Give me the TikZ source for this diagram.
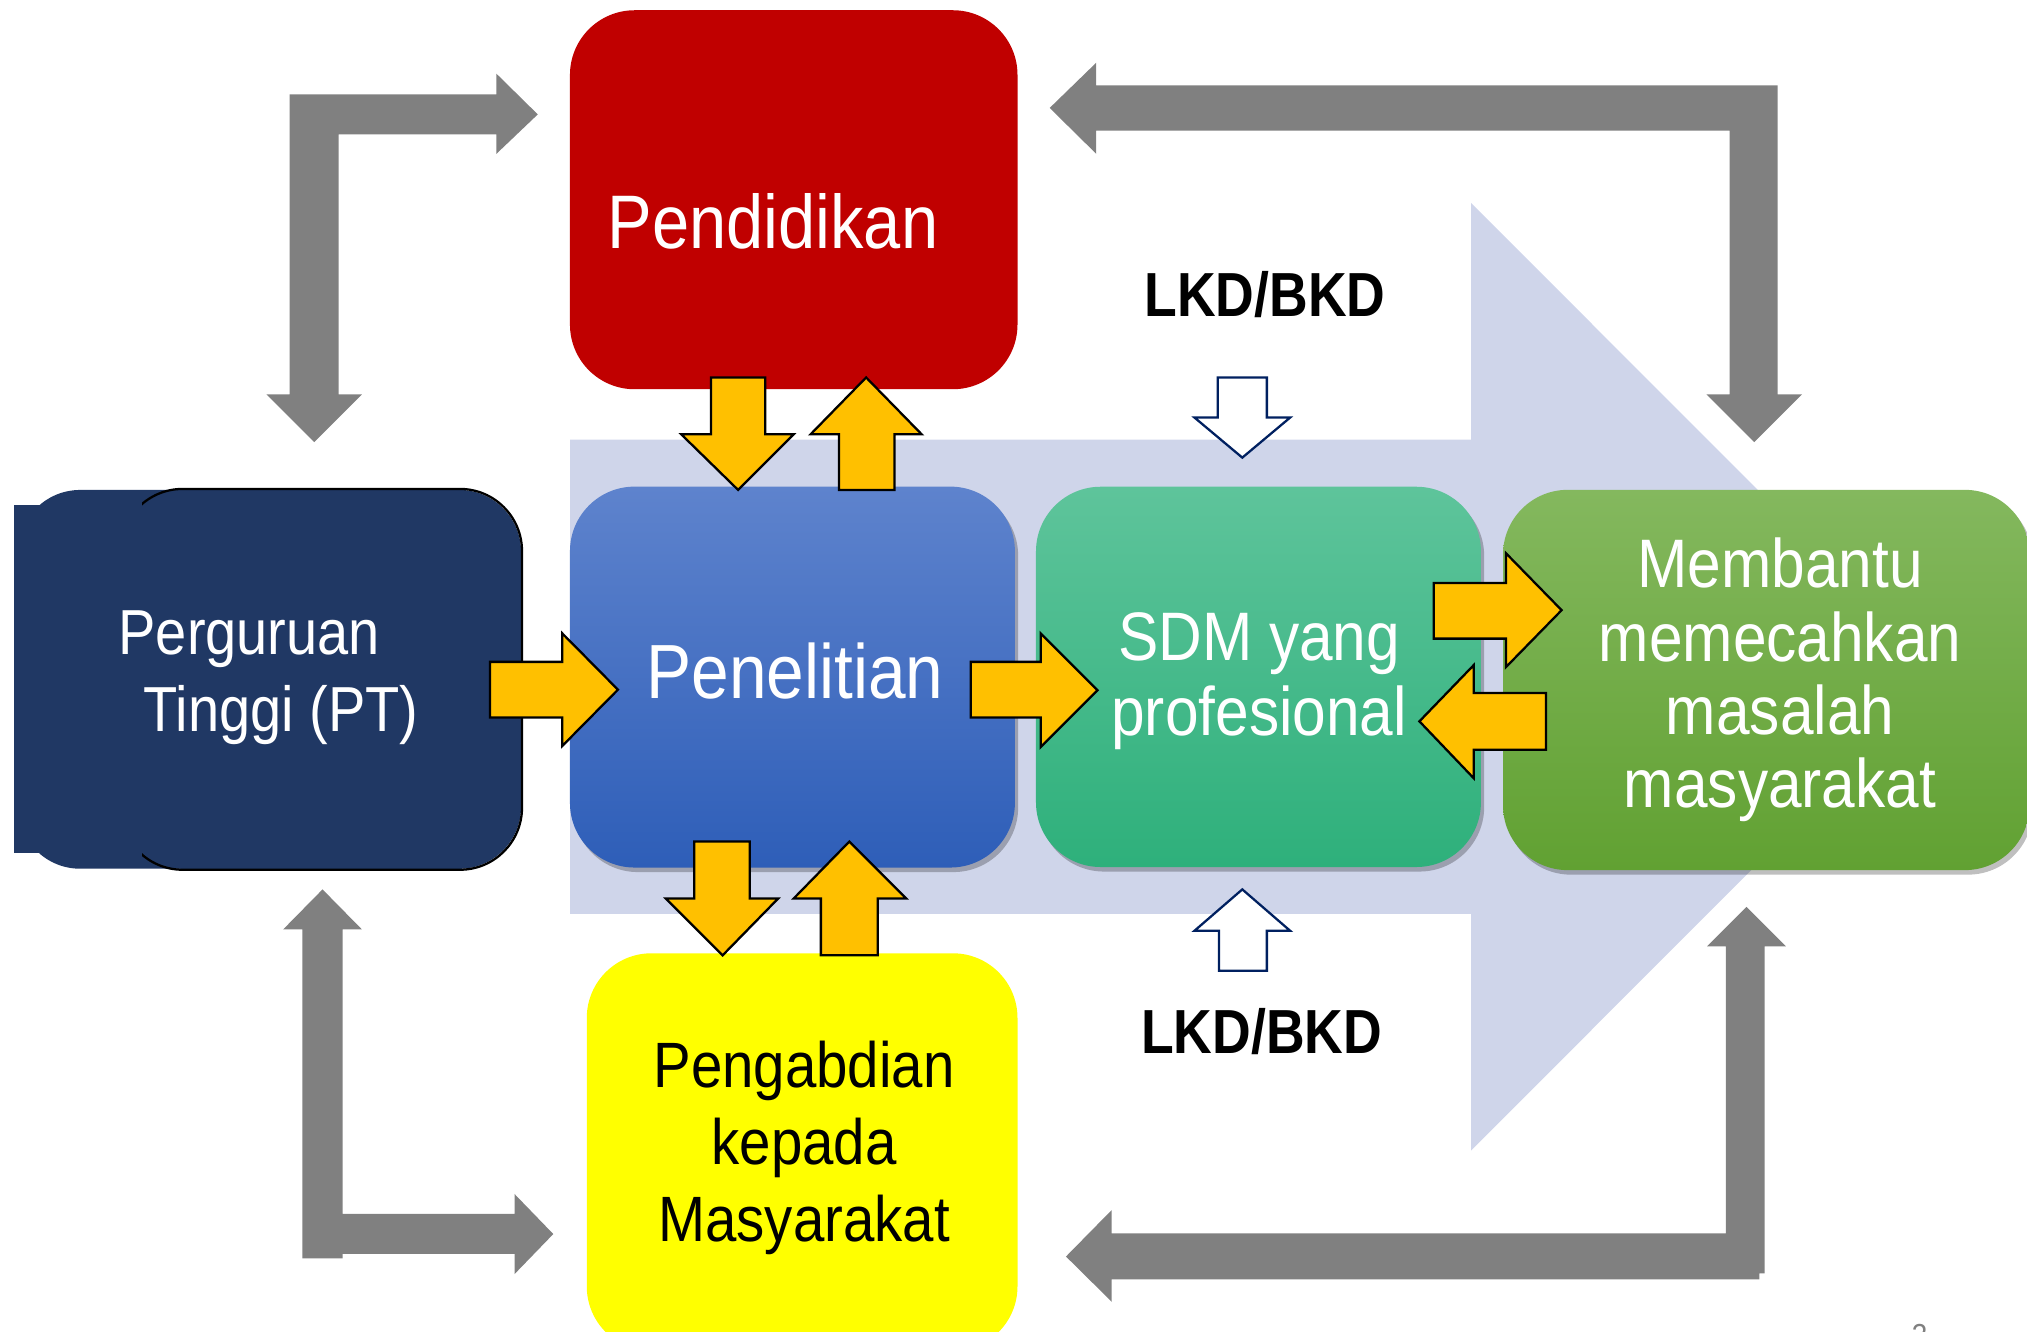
\documentclass[tikz,border=0pt]{standalone}
\usepackage{fontspec}
\setmainfont{Liberation Sans}[FakeStretch=0.88]
\newfontfamily\lkdfont{Liberation Sans Bold}[FakeStretch=0.86]
\usetikzlibrary{shadows}
\definecolor{bgarrow}{HTML}{CFD5EA}
\definecolor{pendred}{HTML}{C00000}
\definecolor{ptnavy}{HTML}{203864}
\definecolor{blueTop}{HTML}{5E83CD}
\definecolor{blueBot}{HTML}{2E5EB8}
\definecolor{tealTop}{HTML}{5EC49B}
\definecolor{tealBot}{HTML}{2EB07B}
\definecolor{greenTop}{HTML}{84B85E}
\definecolor{greenBot}{HTML}{61A132}
\definecolor{pengyellow}{HTML}{FFFF00}
\definecolor{arrowyellow}{HTML}{FFC000}
\definecolor{arrowgray}{HTML}{808080}
\definecolor{arrownavy}{HTML}{002060}
\begin{document}
\begin{tikzpicture}[x=0.01cm,y=-0.01cm,
  box/.style={rounded corners=0.5cm, inner sep=0pt, draw=none},
  softshadow/.style={drop shadow={shadow xshift=0.025cm, shadow yshift=-0.035cm, opacity=0.25, fill=black}},
  yarrow/.style={fill=arrowyellow, draw=black, line width=0.5pt, line join=miter},
  warrow/.style={fill=white, draw=arrownavy, line width=0.5pt, line join=miter},
  garrow/.style={fill=arrowgray},
  txt/.style={inner sep=0pt, text=white},
  btxt/.style={inner sep=0pt, text=black}]
\useasboundingbox (0,0) rectangle (1568,1030);
\clip (0,0) rectangle (1568,1030);

% background big arrow
\fill[bgarrow] (441,340) -- (1138,340) -- (1138,157) -- (1504,523.5) -- (1138,890) -- (1138,707) -- (441,707) -- cycle;

% grey L arrows
\path[garrow] (243,342) -- (280,305) -- (262,305) -- (262,104) -- (384,104) -- (384,119) -- (416,88.5) -- (384,57) -- (384,73) -- (224,73) -- (224,305) -- (206,305) -- cycle;
\path[garrow] (812,83.5) -- (848,48.5) -- (848,66) -- (1375,66) -- (1375,305) -- (1394,305) -- (1357,342) -- (1320,305) -- (1338,305) -- (1338,101) -- (848,101) -- (848,119) -- cycle;
\path[garrow] (249.5,688) -- (280,719) -- (265,719) -- (265,939) -- (398,939) -- (398,923.6) -- (428,954.6) -- (398,985.6) -- (398,970) -- (265,970) -- (265,973.5) -- (234,973.5) -- (234,719) -- (219,719) -- cycle;
\path[garrow] (824.6,972) -- (860,936) -- (860,954) -- (1335,954) -- (1335,732) -- (1320.5,732) -- (1351,701.5) -- (1381.5,732) -- (1365,732) -- (1365,985) -- (1361,985) -- (1361,989.6) -- (860,989.6) -- (860,1007) -- cycle;

% Perguruan Tinggi box
\fill[ptnavy] (10.5,391) rectangle (40,660);
\fill[ptnavy, rounded corners=0.48cm] (14,379) rectangle (300,672);
\node[box, rounded corners=0.48cm, fill=ptnavy, minimum width=3.09cm, minimum height=2.93cm] (pt) at (248.5,525.5) {};
\begin{scope}
  \clip (110,360) rectangle (430,700);
  \draw[black, line width=0.5pt, rounded corners=0.48cm] (pt.north west) rectangle (pt.south east);
\end{scope}

% main boxes
\node[box, fill=pendred, minimum width=3.46cm, minimum height=2.93cm] (pend) at (614,154.5) {};
\node[box, softshadow, top color=blueTop, bottom color=blueBot, minimum width=3.44cm, minimum height=2.945cm] (pen) at (613,523.75) {};
\node[box, softshadow, top color=tealTop, bottom color=tealBot, minimum width=3.44cm, minimum height=2.94cm] (sdm) at (973.5,523.6) {};
\node[box, softshadow, top color=greenTop, bottom color=greenBot, minimum width=4.07cm, minimum height=2.94cm] (mem) at (1366.3,526) {};
\node[box, fill=pengyellow, minimum width=3.33cm, minimum height=3.075cm] (peng) at (620.5,891.25) {};

% yellow block arrows
\path[yarrow] (550,292) -- (592,292) -- (592,336) -- (614,336) -- (571,379) -- (527,336) -- (550,336) -- cycle;
\path[yarrow] (649,379) -- (692,379) -- (692,336) -- (713,336) -- (670,292) -- (627,336) -- (649,336) -- cycle;
\path[yarrow] (379,512) -- (435,512) -- (435,490) -- (478,533.5) -- (435,577) -- (435,555) -- (379,555) -- cycle;
\path[yarrow] (751,512) -- (805,512) -- (805,490) -- (849,534) -- (805,578) -- (805,555) -- (751,555) -- cycle;
\path[yarrow] (1109,451) -- (1165,451) -- (1165,428) -- (1208,472) -- (1165,516) -- (1165,494) -- (1109,494) -- cycle;
\path[yarrow] (1196,536) -- (1140,536) -- (1140,514.5) -- (1098,558) -- (1140,602) -- (1140,580) -- (1196,580) -- cycle;
\path[yarrow] (537,651) -- (580,651) -- (580,695) -- (602,695) -- (559,739) -- (515,695) -- (537,695) -- cycle;
\path[yarrow] (635,739) -- (679,739) -- (679,695) -- (701,695) -- (657,651) -- (614,695) -- (635,695) -- cycle;

% white block arrows
\path[warrow] (942,292) -- (980,292) -- (980,323) -- (998,323) -- (961,354) -- (924,323) -- (942,323) -- cycle;
\path[warrow] (943,751) -- (980,751) -- (980,720) -- (998,720) -- (961,688) -- (924,720) -- (943,720) -- cycle;

% texts (multi-line nodes: base = baseline of last line)
\node[txt, anchor=base, font=\fontsize{16.7pt}{20pt}\selectfont] (tpend) at (598,192) {Pendidikan};
\node[txt, anchor=base, font=\fontsize{16.9pt}{20pt}\selectfont] (tpen) at (615,540) {Penelitian};
\node[txt, anchor=base west, align=left, font=\fontsize{14pt}{16.93pt}\selectfont] (tpt) at (91,565.5) {Perguruan\\\hspace*{0.195cm}Tinggi (PT)};
\node[txt, anchor=base, align=center, font=\fontsize{15.1pt}{16.5pt}\selectfont] (tsdm) at (974,568.6) {SDM yang\\profesional};
\node[txt, anchor=base, align=center, font=\fontsize{15.1pt}{16.13pt}\selectfont] (tmem) at (1377,625) {Membantu\\memecahkan\\masalah\\masyarakat};
\node[btxt, anchor=base, align=center, font=\fontsize{14.1pt}{16.93pt}\selectfont] (tpeng) at (622,960) {Pengabdian\\kepada\\Masyarakat};
\node[btxt, anchor=base, font=\lkdfont\fontsize{13.7pt}{16pt}\selectfont] (lkdtop) at (978.5,245) {LKD/BKD};
\node[btxt, anchor=base, font=\lkdfont\fontsize{13.7pt}{16pt}\selectfont] (lkdbot) at (976,815) {LKD/BKD};
\node[inner sep=0pt, anchor=north, text=arrowgray, font=\fontsize{7pt}{8pt}\selectfont] (pagenum) at (1485,1023.5) {3};
\end{tikzpicture}
\end{document}
